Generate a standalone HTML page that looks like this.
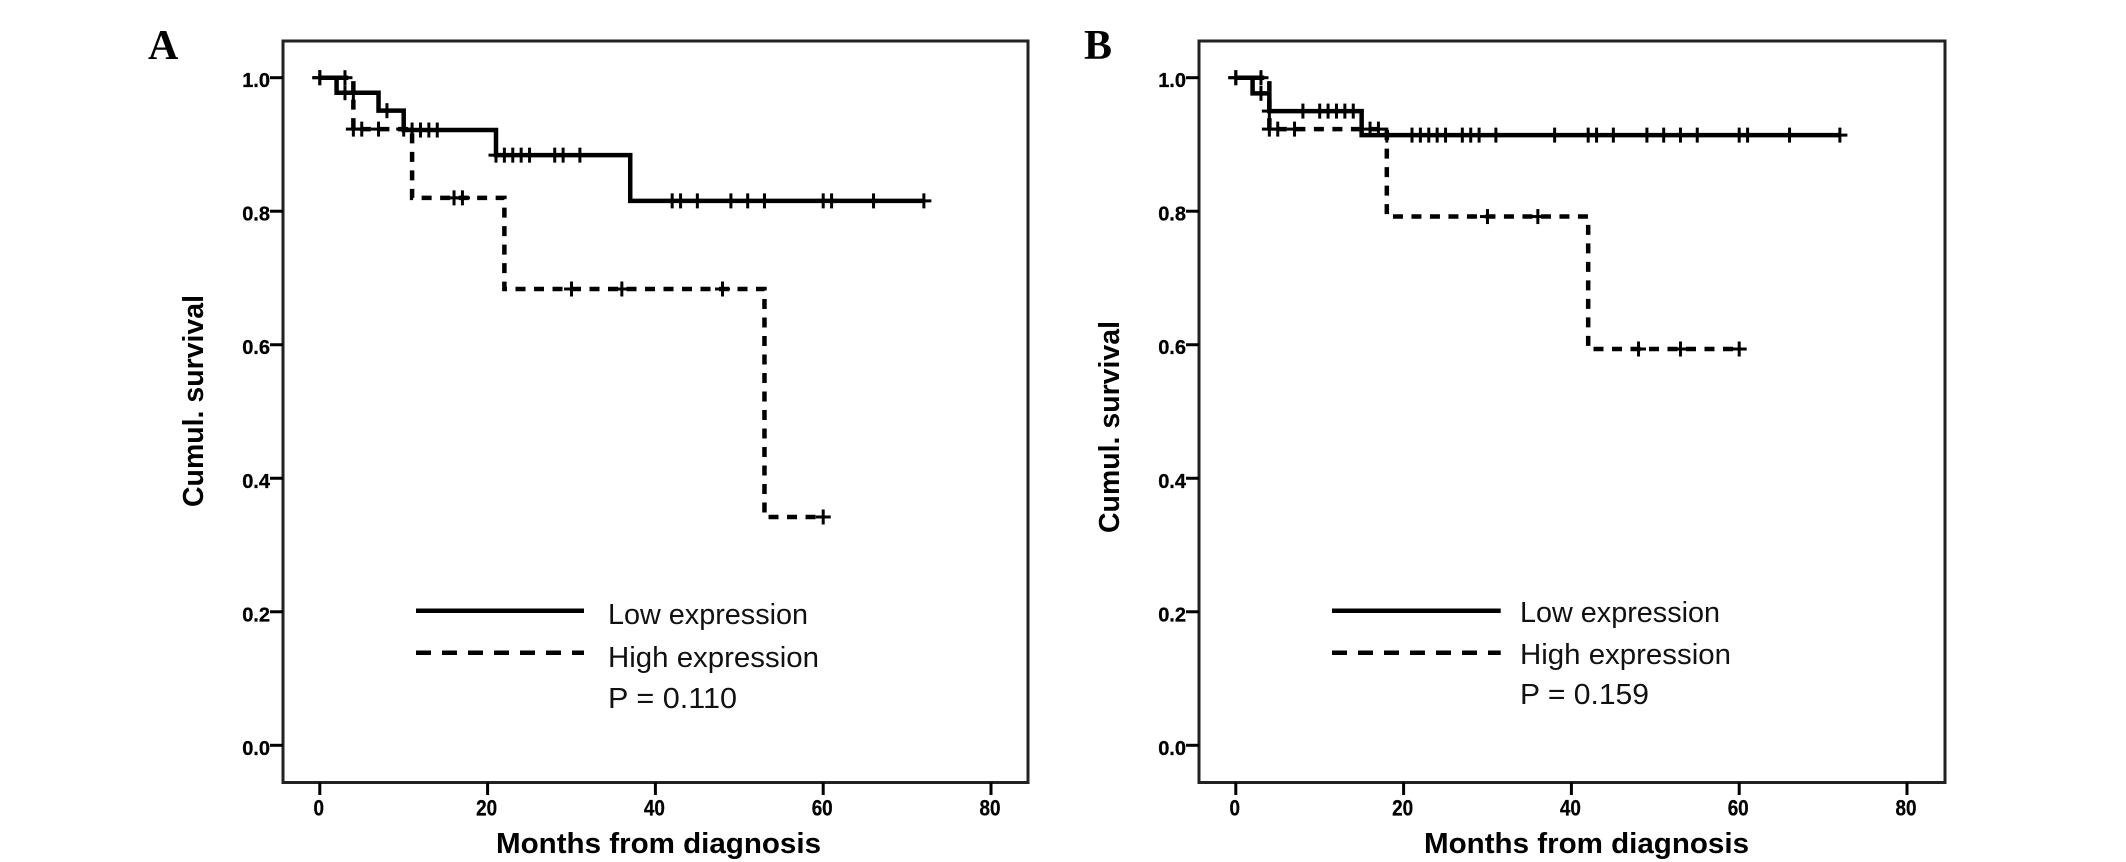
<!DOCTYPE html>
<html lang="en">
<head>
<meta charset="utf-8">
<title>Kaplan-Meier survival curves</title>
<style>
  html, body { margin: 0; padding: 0; background: #fff; }
  svg { display: block; }
  text { font-family: "Liberation Sans", sans-serif; fill: #000; }
  .panel-letter { font-family: "Liberation Serif", serif; font-weight: bold; font-size: 42px; }
  .tick-label { font-weight: bold; font-size: 20px; stroke: #000; stroke-width: 0.3; }
  .x-tick-label { font-size: 22px; }
  .axis-title { font-weight: bold; font-size: 29px; }
  .legend-text { font-size: 29px; fill: #111; }
  .frame { fill: none; stroke: #222; stroke-width: 3; }
</style>
</head>
<body>
<svg id="figure" width="2126" height="862" viewBox="0 0 2126 862" xmlns="http://www.w3.org/2000/svg">
  <rect width="2126" height="862" fill="#fff"/>

  <g id="panel-a">
    <text class="panel-letter" x="148" y="59">A</text>
    <rect class="frame" x="283" y="41" width="745" height="741.5"/>
    <text class="axis-title" x="496" y="853" textLength="325" lengthAdjust="spacingAndGlyphs">Months from diagnosis</text>
    <text class="axis-title" transform="translate(203 507) rotate(-90)" x="0" y="0" textLength="212" lengthAdjust="spacingAndGlyphs">Cumul. survival</text>
    <line x1="416" y1="610.7" x2="584" y2="610.7" stroke="#000" stroke-width="4.5"/>
    <line x1="416" y1="652.7" x2="584" y2="652.7" stroke="#000" stroke-width="4.5" stroke-dasharray="15 11"/>
    <text class="legend-text" x="608" y="624" textLength="200" lengthAdjust="spacingAndGlyphs">Low expression</text>
    <text class="legend-text" x="608" y="667" textLength="211" lengthAdjust="spacingAndGlyphs">High expression</text>
    <text class="legend-text" x="608" y="708" textLength="129" lengthAdjust="spacingAndGlyphs">P = 0.110</text>
  </g>

  <g id="panel-b">
    <text class="panel-letter" x="1084" y="59">B</text>
    <rect class="frame" x="1199" y="41" width="746" height="741.5"/>
    <text class="axis-title" x="1424" y="853" textLength="325" lengthAdjust="spacingAndGlyphs">Months from diagnosis</text>
    <text class="axis-title" transform="translate(1119 533) rotate(-90)" x="0" y="0" textLength="212" lengthAdjust="spacingAndGlyphs">Cumul. survival</text>
    <line x1="1332" y1="610.7" x2="1500.7" y2="610.7" stroke="#000" stroke-width="4.5"/>
    <line x1="1332" y1="652.7" x2="1500.7" y2="652.7" stroke="#000" stroke-width="4.5" stroke-dasharray="15 11"/>
    <text class="legend-text" x="1520" y="622" textLength="200" lengthAdjust="spacingAndGlyphs">Low expression</text>
    <text class="legend-text" x="1520" y="664" textLength="211" lengthAdjust="spacingAndGlyphs">High expression</text>
    <text class="legend-text" x="1520" y="704" textLength="129" lengthAdjust="spacingAndGlyphs">P = 0.159</text>
  </g>
</svg>

<script>
// Axis tick labels
const xTicks = [0, 20, 40, 60, 80];
const yTicks = ["0.0", "0.2", "0.4", "0.6", "0.8", "1.0"];

// Panel A, low expression
const lowAEventMonths = [2, 7, 10, 21, 37];
const lowASurvival = [0.9775, 0.9506, 0.9216, 0.884, 0.8155];
const lowACensorMonths = [0, 3, 4, 8, 11, 12, 13, 14, 21, 22, 23, 24, 25, 28, 29, 31, 42, 43, 45, 49, 51, 53, 60, 61, 66, 72];

// Panel A, high expression
const highAEventMonths = [4, 11, 22, 53];
const highASurvival = [0.923, 0.82, 0.6835, 0.342];
const highACensorMonths = [0, 3, 4, 5, 7, 10, 16, 17, 30, 36, 48, 60];

// Panel B, low expression
const lowBEventMonths = [2, 4, 15];
const lowBSurvival = [0.9766, 0.95, 0.914];
const lowBCensorMonths = [0, 3, 4, 8, 10, 11, 12, 13, 14, 18, 21, 22, 23, 24, 25, 27, 28, 29, 31, 38, 42, 43, 45, 49, 51, 53, 55, 60, 61, 66, 72];

// Panel B, high expression
const highBEventMonths = [4, 18, 42];
const highBSurvival = [0.923, 0.792, 0.5936];
const highBCensorMonths = [0, 3, 4, 5, 7, 16, 17, 30, 36, 48, 53, 60];

const SVG_NS = "http://www.w3.org/2000/svg";
const yAxis = function (s) { return 745.3 - s * 667.6; };
const xAxisA = function (m) { return 319.8 + m * 8.39; };
const xAxisB = function (m) { return 1235.8 + m * 8.39; };

function survivalAt(month, events, survival) {
  let s = 1;
  for (let i = 0; i < events.length; i++) {
    if (month >= events[i]) s = survival[i];
  }
  return s;
}

function addLine(parent, x1, y1, x2, y2, width) {
  const line = document.createElementNS(SVG_NS, "line");
  line.setAttribute("x1", x1);
  line.setAttribute("y1", y1);
  line.setAttribute("x2", x2);
  line.setAttribute("y2", y2);
  line.setAttribute("stroke", "#000");
  line.setAttribute("stroke-width", width);
  parent.appendChild(line);
  return line;
}

function drawAxes(panel, prefix, xAxis, frameLeft) {
  xTicks.forEach(function (month) {
    const px = xAxis(month);
    const tick = addLine(panel, px, 782.5, px, 795, 3);
    
    
    const label = document.createElementNS(SVG_NS, "text");
    label.setAttribute("class", "tick-label x-tick-label");
    label.setAttribute("x", px - 1);
    label.setAttribute("y", 815.5);
    label.setAttribute("text-anchor", "middle");
    label.setAttribute("textLength", String(month).length * 10.5);
    label.setAttribute("lengthAdjust", "spacingAndGlyphs");
    label.textContent = month;
    
    
    panel.appendChild(label);
  });
  yTicks.forEach(function (value) {
    const py = yAxis(parseFloat(value));
    const tick = addLine(panel, frameLeft - 13, py, frameLeft, py, 3);
    
    
    const label = document.createElementNS(SVG_NS, "text");
    label.setAttribute("class", "tick-label");
    label.setAttribute("x", frameLeft - 13);
    label.setAttribute("y", py + 9.5);
    label.setAttribute("text-anchor", "end");
    label.textContent = value;
    
    
    panel.appendChild(label);
  });
}

function drawSeries(panel, name, xAxis, events, survival, censors, dashed) {
  const lastMonth = Math.max.apply(null, censors);
  let d = "M" + xAxis(0) + " " + yAxis(1);
  let level = 1;
  events.forEach(function (month, i) {
    d += " H" + xAxis(month);
    level = survival[i];
    d += " V" + yAxis(level);
  });
  d += " H" + xAxis(lastMonth);
  const curve = document.createElementNS(SVG_NS, "path");
  curve.setAttribute("d", d);
  curve.setAttribute("fill", "none");
  curve.setAttribute("stroke", "#000");
  curve.setAttribute("stroke-width", "4.5");
  if (dashed) curve.setAttribute("stroke-dasharray", "10 8.5");
  
  
  panel.appendChild(curve);

  censors.forEach(function (month) {
    const px = xAxis(month);
    const py = yAxis(survivalAt(month, events, survival));
    const mark = document.createElementNS(SVG_NS, "g");
    
    
    addLine(mark, px, py - 7.5, px, py + 7.5, 3);
    addLine(mark, px - 7.5, py, px + 7.5, py, 3);
    panel.appendChild(mark);
  });
}

const panelA = document.getElementById("panel-a");
const panelB = document.getElementById("panel-b");

drawAxes(panelA, "panel-a", xAxisA, 283);
drawAxes(panelB, "panel-b", xAxisB, 1199);

drawSeries(panelA, "panel-a-low-expression", xAxisA, lowAEventMonths, lowASurvival, lowACensorMonths, false);
drawSeries(panelA, "panel-a-high-expression", xAxisA, highAEventMonths, highASurvival, highACensorMonths, true);
drawSeries(panelB, "panel-b-low-expression", xAxisB, lowBEventMonths, lowBSurvival, lowBCensorMonths, false);
drawSeries(panelB, "panel-b-high-expression", xAxisB, highBEventMonths, highBSurvival, highBCensorMonths, true);
</script>
</body>
</html>
